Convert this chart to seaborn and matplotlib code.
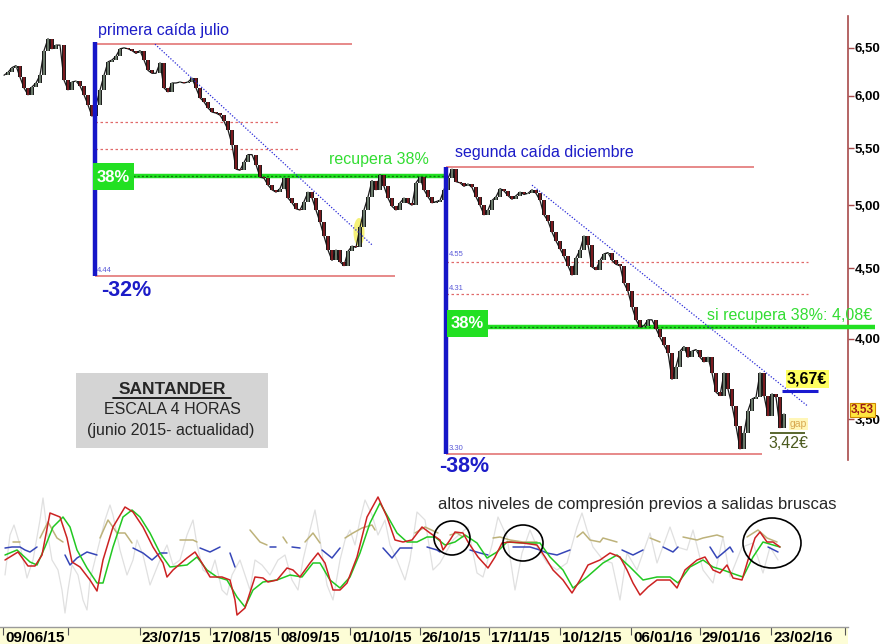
import numpy as np
import pandas as pd
import matplotlib
matplotlib.use("Agg")
import matplotlib.pyplot as plt
import seaborn as sns
from matplotlib.patches import Rectangle, Ellipse
from matplotlib.lines import Line2D
from matplotlib.ticker import NullLocator

# ---------------- data ----------------
# 4-hour closes, Santander, June 2015 - Feb 2016 (one value per plotted bar)
close = [6.21, 6.24, 6.29, 6.31, 6.19, 6.08, 6.01, 6.09, 6.13, 6.21,
         6.47, 6.60, 6.49, 6.53, 6.53, 6.16, 6.06, 6.14, 6.15, 6.10,
         6.01, 5.91, 5.80, 5.91, 6.06, 6.21, 6.35, 6.37, 6.41, 6.49,
         6.50, 6.49, 6.47, 6.44, 6.47, 6.37, 6.26, 6.23, 6.23, 6.34,
         6.08, 6.04, 6.13, 6.13, 6.14, 6.13, 6.14, 6.18, 6.08, 5.98,
         5.94, 5.88, 5.84, 5.83, 5.81, 5.75, 5.67, 5.53, 5.31, 5.30,
         5.37, 5.44, 5.44, 5.35, 5.24, 5.23, 5.17, 5.13, 5.11, 5.14,
         5.23, 5.06, 5.02, 4.97, 4.96, 5.03, 5.11, 5.06, 4.96, 4.86,
         4.75, 4.64, 4.56, 4.64, 4.55, 4.52, 4.63, 4.67, 4.66, 4.82,
         4.96, 5.07, 5.21, 5.13, 5.26, 5.16, 5.06, 4.99, 4.96, 5.02,
         5.06, 5.02, 5.00, 5.19, 5.24, 5.13, 5.07, 5.02, 5.03, 5.04,
         5.13, 5.23, 5.31, 5.20, 5.19, 5.16, 5.18, 5.15, 5.07, 5.00,
         4.92, 4.96, 5.04, 5.07, 5.14, 5.12, 5.08, 5.05, 5.08, 5.11,
         5.09, 5.10, 5.13, 5.10, 5.04, 4.92, 4.87, 4.78, 4.71, 4.65,
         4.59, 4.52, 4.45, 4.58, 4.64, 4.75, 4.68, 4.51, 4.49, 4.56,
         4.61, 4.62, 4.56, 4.53, 4.52, 4.39, 4.33, 4.22, 4.13, 4.08,
         4.09, 4.13, 4.13, 4.07, 4.01, 3.96, 3.91, 3.74, 3.82, 3.92,
         3.95, 3.88, 3.92, 3.93, 3.88, 3.85, 3.88, 3.78, 3.66, 3.64,
         3.78, 3.68, 3.58, 3.46, 3.33, 3.42, 3.55, 3.62, 3.63, 3.78,
         3.64, 3.52, 3.65, 3.63, 3.45, 3.53]

date_labels = ["09/06/15", "", "23/07/15", "17/08/15", "08/09/15", "01/10/15",
               "26/10/15", "17/11/15", "10/12/15", "06/01/16", "29/01/16", "23/02/16"]
date_t = [3, 68, 140, 210, 278, 350, 420, 489, 560, 631, 700, 771]

price_ticks = [3.5, 4.0, 4.5, 5.0, 5.5, 6.0, 6.5]

# swing levels
fall1_top, fall1_low = 6.54, 4.44
fall2_top, fall2_low = 5.33, 3.30
fib1 = [5.74, 5.49]
fib2 = [4.55, 4.31]
retr1, retr2 = 5.25, 4.08
resist, support, last = 3.67, 3.42, 3.53

# oscillator panel (time index, value)
red_t = [5, 18, 28, 35, 42, 50, 60, 67, 72, 80, 90, 97, 103, 113, 125, 133, 143, 153, 163, 167,
         173, 187, 195, 202, 210, 222, 230, 235, 237, 245, 255, 263, 268, 277, 287, 293, 300, 310,
         318, 325, 333, 340, 347, 357, 367, 378, 387, 395, 403, 412, 422, 430, 440, 443, 450, 455,
         463, 468, 478, 488, 495, 502, 510, 523, 537, 545, 553, 563, 572, 580, 588, 600, 610, 620,
         627, 633, 640, 648, 657, 670, 677, 685, 697, 705, 713, 720, 727, 733, 742, 748, 755, 760,
         767, 773, 780]
red_v = [60, 68, 54, 54, 65, 107, 103, 82, 58, 53, 40, 29, 60, 93, 113, 108, 93, 73, 57, 43,
         50, 62, 68, 57, 43, 43, 40, 20, 5, 12, 43, 42, 38, 40, 52, 50, 43, 57,
         67, 57, 30, 30, 37, 63, 103, 123, 103, 80, 78, 80, 93, 87, 80, 70, 80, 88,
         87, 78, 63, 52, 63, 77, 78, 77, 75, 63, 50, 40, 27, 40, 55, 60, 67, 63,
         50, 37, 25, 33, 40, 40, 32, 50, 60, 63, 50, 47, 55, 42, 40, 60, 82, 88,
         78, 78, 73]
green_t = [5, 17, 30, 37, 45, 53, 63, 70, 77, 87, 97, 103, 113, 123, 132, 140, 150, 160, 170, 187,
           197, 207, 217, 227, 237, 245, 253, 263, 277, 290, 302, 313, 320, 330, 340, 350, 360, 370,
           380, 388, 397, 407, 417, 427, 435, 445, 455, 465, 477, 487, 497, 507, 523, 540, 550, 563,
           573, 587, 603, 617, 630, 643, 657, 670, 678, 690, 703, 713, 723, 737, 743, 753, 763, 773, 780]
green_v = [65, 70, 58, 55, 73, 93, 103, 93, 70, 52, 37, 37, 73, 103, 110, 103, 87, 67, 53, 55,
           63, 50, 43, 40, 23, 13, 30, 38, 40, 45, 43, 57, 57, 40, 32, 43, 67, 97,
           117, 103, 87, 78, 78, 83, 83, 75, 78, 85, 77, 62, 68, 78, 77, 77, 63, 50,
           32, 43, 57, 65, 53, 40, 43, 43, 37, 53, 60, 53, 50, 45, 43, 63, 78, 75, 73]
khaki_t = [13, 20, None, 40, 48, 57, 63, None, 100, 108, 117, 125, 132, None, 180, 193, 197, None,
           250, 260, 267, None, 283, 287, None, 305, 313, 320, None, 345, 353, 362, 372, 375, None,
           415, 425, 438, None, 450, 457, 463, None, 493, 500, 510, 523, 537, None,
           577, 583, 590, 600, 603, 617, None, 650, 660, None, 683, 697, 703, 717, 723, None,
           747, 758, 767, 777]
khaki_v = [78, 78, None, 82, 98, 82, 78, None, 82, 100, 87, 87, 77, None, 80, 80, 78, None,
           90, 78, 75, None, 83, 77, None, 78, 87, 77, None, 82, 87, 92, 95, 90, None,
           87, 93, 87, None, 85, 87, 83, None, 82, 83, 80, 78, 78, None,
           83, 88, 80, 78, 82, 78, None, 82, 78, None, 83, 80, 82, 85, 83, None,
           83, 90, 82, 78]
blue_t = [5, 12, 20, 25, 30, 37, None, 65, 70, 77, 87, 97, None, 133, 143, 152, 160, 167, None,
          200, 210, 220, None, 230, 235, None, 270, 276, None, 292, 300, None, 322, 332, 340, None,
          383, 392, 400, 412, None, 427, 437, 440, None, 470, 480, 488, None,
          513, 530, 540, 547, 557, 570, None, 622, 633, 643, None, 663, 673, 678, None,
          710, 717, 723, 730, 733, None, 768, 778]
blue_v = [72, 73, 73, 70, 68, 73, None, 65, 55, 62, 68, 65, None, 72, 67, 60, 67, 67, None,
          72, 68, 73, None, 67, 53, None, 73, 73, None, 73, 72, None, 70, 62, 72, None,
          72, 62, 72, 72, None, 73, 70, 68, None, 70, 67, 65, None,
          73, 73, 70, 67, 65, 70, None, 70, 65, 70, None, 73, 68, 73, None,
          73, 62, 67, 73, 68, None, 73, 68]
grey_t = [5, 10, 14, 20, 27, 33, 40, 43, 47, 52, 58, 62, 65, 68, 72, 78, 83, 87, 90, 95,
          100, 105, 110, 113, 120, 127, 133, 137, 143, 150, 160, 167, 173, 180, 187, 193, 197, 203,
          210, 215, 222, 227, 232, 240, 245, 250, 255, 262, 270, 278, 285, 292, 298, 303, 310, 315,
          320, 327, 333, 340, 345, 350, 355, 360, 365, 372, 378, 385, 390, 397, 405, 410, 417, 425,
          433, 440, 453, 468, 477, 483, 492, 498, 507, 515, 522, 530, 537, 547, 557, 567, 577, 582,
          587, 593, 603, 612, 620, 627, 637, 650, 657, 670, 677, 687, 693, 703, 713, 723, 730, 742,
          753, 763, 770, 778]
grey_v = [45, 85, 95, 75, 42, 60, 100, 122, 90, 60, 50, 30, 7, 30, 55, 45, 20, 10, 40, 60,
          80, 100, 115, 105, 70, 45, 60, 80, 65, 35, 60, 75, 55, 60, 85, 100, 75, 50,
          45, 60, 30, 25, 45, 60, 45, 30, 60, 55, 45, 60, 65, 40, 30, 60, 90, 110,
          80, 35, 20, 60, 80, 90, 75, 100, 120, 105, 85, 100, 75, 60, 40, 60, 108, 100,
          50, 57, 80, 93, 47, 43, 75, 103, 83, 30, 67, 90, 73, 57, 50, 57, 93, 107,
          90, 73, 60, 57, 20, 67, 50, 87, 57, 93, 73, 70, 90, 50, 37, 83, 43, 73,
          77, 47, 73, 60]

# ---------------- figure ----------------
sns.set_theme(style="white")
plt.rcParams["font.family"] = ["Liberation Sans", "DejaVu Sans"]

W, H = 889, 644
fig = plt.figure(figsize=(W / 100, H / 100), dpi=100)
fig.patch.set_facecolor("white")


def FX(px):
    return px / W


def FY(py):
    return 1 - py / H


# price panel: log scale
ax = fig.add_axes([0, FY(470), 848 / W, 470 / H])
ax.set_facecolor("white")
ax.set_yscale("log")
ax.set_xlim(0, 848)
ax.set_ylim(3.215, 7.04)

n = len(close)
t = np.arange(1, n + 1) * 4
c = np.array(close)
o = np.concatenate([[c[0]], c[:-1]])
lo = np.minimum(o, c)
hi = np.maximum(o, c)
up = c >= o
sns.lineplot(x=t, y=c, ax=ax, color="#1a1a1a", lw=0.9, sort=False, estimator=None, zorder=4)
ax.vlines(t, lo, hi, colors="#111111", linewidth=2.8, zorder=4)
ax.vlines(t[up], lo[up], hi[up], colors="#7d8f7d", linewidth=1.2, zorder=5)
ax.vlines(t[~up], lo[~up], hi[~up], colors="#8e1c22", linewidth=1.2, zorder=5)
ax.set_xlim(0, 848)
ax.set_ylim(3.215, 7.04)
ax.set_xlabel("")
ax.set_ylabel("")

# axis styling
for s in ["left", "top", "bottom"]:
    ax.spines[s].set_visible(False)
ax.spines["right"].set_color("#a84a4a")
ax.spines["right"].set_linewidth(1.2)
ax.spines["right"].set_bounds(3.27, 6.86)
ax.yaxis.tick_right()
ax.set_yticks(price_ticks)
ax.set_yticklabels([f"{v:.2f}".replace(".", ",") for v in price_ticks])
ax.yaxis.set_minor_locator(NullLocator())
ax.tick_params(axis="y", direction="out", length=4, width=1, color="#a84a4a",
               labelsize=9.5, pad=1, labelcolor="black")
for lab in ax.get_yticklabels():
    lab.set_fontweight("bold")
ax.set_xticks([])
ax.grid(False)

# --- first fall annotations
x1, x2 = 95, 446
ax.hlines(fall1_top, x1, 352, color="#e06a6a", lw=1.1, zorder=3)
ax.hlines(fall1_low, x1, 395, color="#e06a6a", lw=1.1, zorder=3)
ax.hlines(fib1[0], x1, 279, color="#e06a6a", lw=0.9, linestyles=(0, (2, 2)), zorder=3)
ax.hlines(fib1[1], x1, 300, color="#e06a6a", lw=0.9, linestyles=(0, (2, 2)), zorder=3)
ax.hlines(retr1, 93, x2, color="#22e022", lw=3.2, zorder=3)
ax.hlines(retr1, 133, x2, color="#0b7d0b", lw=1.0, linestyles=(0, (1.5, 1.5)), zorder=3)
ax.vlines(x1, fall1_low, 6.56, color="#1616c8", lw=3.2, zorder=6)
ax.plot([155, 372], [fall1_top, 4.68], color="#2a2ad8", lw=0.9, ls=(0, (1, 1.4)), zorder=6)

# --- second fall annotations
ax.hlines(fall2_top, x2, 754, color="#e06a6a", lw=1.1, zorder=3)
ax.hlines(fall2_low, x2, 762, color="#e06a6a", lw=1.1, zorder=3)
for f in fib2:
    ax.hlines(f, x2, 808, color="#e06a6a", lw=0.9, linestyles=(0, (2, 2)), zorder=3)
ax.hlines(retr2, x2, 875, color="#22e022", lw=3.2, zorder=3, clip_on=False)
ax.hlines(retr2, 490, 808, color="#0b7d0b", lw=1.0, linestyles=(0, (1.5, 1.5)), zorder=3)
ax.vlines(x2, fall2_low, fall2_top, color="#1616c8", lw=3.2, zorder=6)
ax.plot([532, 807], [5.17, 3.58], color="#2a2ad8", lw=0.9, ls=(0, (1, 1.4)), zorder=6)
ax.hlines(resist, 782, 818, color="#1a1ad0", lw=2.2, zorder=6)
ax.hlines(support, 770, 805, color="#4b5a1e", lw=1.3, zorder=6)

# yellow highlight of the breakout
ax.add_patch(Ellipse((FX(359), FY(232)), 11 / W, 28 / H, transform=fig.transFigure,
                     fc="#f4f06a", ec="none", alpha=0.9, zorder=2))

# green 38% boxes
for (bx, by) in [(93, 163), (447, 310)]:
    fig.patches.append(Rectangle((FX(bx), FY(by + 27)), 41 / W, 27 / H, transform=fig.transFigure,
                                 fc="#22e022", ec="none", zorder=7))
    fig.text(FX(bx + 20), FY(by + 14), "38%", color="white", fontsize=12, fontweight="bold",
             ha="center", va="center", zorder=8)

# texts
blue = "#1c1cc8"
fig.text(FX(98), FY(30), "primera caída julio", color=blue, fontsize=11.5, va="center")
fig.text(FX(455), FY(153), "segunda caída diciembre", color=blue, fontsize=11.5, va="center")
fig.text(FX(329), FY(159), "recupera 38%", color="#33dd33", fontsize=11.5, va="center")
fig.text(FX(707), FY(316), "si recupera 38%: 4,08€", color="#33dd33", fontsize=11.5, va="center")
fig.text(FX(101), FY(291), "-32%", color=blue, fontsize=15.5, fontweight="bold", va="center")
fig.text(FX(439), FY(466), "-38%", color=blue, fontsize=15.5, fontweight="bold", va="center")
for (lx, ly, s) in [(97, 270, "4.44"), (449, 255, "4.55"), (449, 288, "4.31"), (449, 449, "3.30")]:
    fig.text(FX(lx), FY(ly), s, color="#5a5ad8", fontsize=5.5, va="center")
fig.text(FX(787), FY(379), "3,67€", color="black", fontsize=11.5, fontweight="bold", va="center",
         bbox=dict(boxstyle="square,pad=0.08", fc="#ffff60", ec="none"))
fig.text(FX(768), FY(443), "3,42€", color="#4b5a1e", fontsize=11.5, va="center")
fig.text(FX(790), FY(424), "gap", color="#d9a850", fontsize=7.5, va="center",
         bbox=dict(boxstyle="square,pad=0.05", fc="#fff6b8", ec="none"))
fig.text(FX(851), FY(410), "3,53", color="#9a1a1a", fontsize=8.5, fontweight="bold", va="center",
         zorder=10, bbox=dict(boxstyle="square,pad=0.12", fc="#ffe640", ec="#d08a00", lw=0.8))

# title box
fig.patches.append(Rectangle((FX(76), FY(448)), 192 / W, 75 / H, transform=fig.transFigure,
                             fc="#d4d4d4", ec="none", zorder=1))
fig.text(FX(172), FY(390), "SANTANDER", fontsize=12.5, fontweight="bold", ha="center", va="center")
fig.lines.append(Line2D([FX(113), FX(231)], [FY(398), FY(398)], transform=fig.transFigure,
                        color="black", lw=1.2))
fig.text(FX(172), FY(410), "ESCALA 4 HORAS", fontsize=11.5, ha="center", va="center")
fig.text(FX(171), FY(430), "(junio 2015- actualidad)", fontsize=11.5, ha="center", va="center")

# ---------------- oscillator panel ----------------
axi = fig.add_axes([0, FY(626), 848 / W, 156 / H])


def seg_df(ts, vs):
    return pd.DataFrame({"t": [np.nan if v is None else v for v in ts],
                         "v": [np.nan if v is None else v for v in vs]})


gdf = seg_df(grey_t, grey_v)
axi.plot(gdf.t, gdf.v, color="#e0e0e0", lw=0.9, zorder=1)
kdf = seg_df(khaki_t, khaki_v)
axi.plot(kdf.t, kdf.v, color="#bdb27a", lw=1.1, zorder=2)
bdf = seg_df(blue_t, blue_v)
axi.plot(bdf.t, bdf.v, color="#3646b8", lw=1.1, zorder=2)
sns.lineplot(x=green_t, y=green_v, ax=axi, color="#22c822", lw=1.1, sort=False,
             estimator=None, zorder=3)
sns.lineplot(x=red_t, y=red_v, ax=axi, color="#cc2222", lw=1.1, sort=False,
             estimator=None, zorder=4)
axi.set_xlim(0, 848)
axi.set_ylim(-6, 150)
axi.axis("off")

for (cx, cy, w, h) in [(452, 538, 36, 34), (523, 543, 40, 36), (772, 543, 58, 50)]:
    axi.add_patch(Ellipse((cx, 620 - cy), w, h, fc="none", ec="black", lw=1.2, zorder=6))
fig.text(FX(637), FY(505), "altos niveles de compresión previos a salidas bruscas",
         fontsize=12, ha="center", va="center")

# ---------------- date strip ----------------
axd = fig.add_axes([0, 0, 848 / W, 17 / H])
axd.set_facecolor("#fdfdd6")
axd.set_xlim(0, 848)
axd.set_ylim(0, 1)
axd.set_xticks([])
axd.set_yticks([])
for s in ["left", "right", "bottom"]:
    axd.spines[s].set_visible(False)
axd.spines["top"].set_color("#9a9a9a")
axd.spines["top"].set_linewidth(1.0)
axd.vlines(date_t + [845], 0.55, 1.0, color="#555555", lw=0.8)
for dt, lab in zip(date_t, date_labels):
    if lab:
        axd.text(dt + 2, 0.38, lab, fontsize=11, fontweight="bold", ha="left", va="center",
                 color="black")

fig.savefig("out.png", dpi=100, facecolor="white")
